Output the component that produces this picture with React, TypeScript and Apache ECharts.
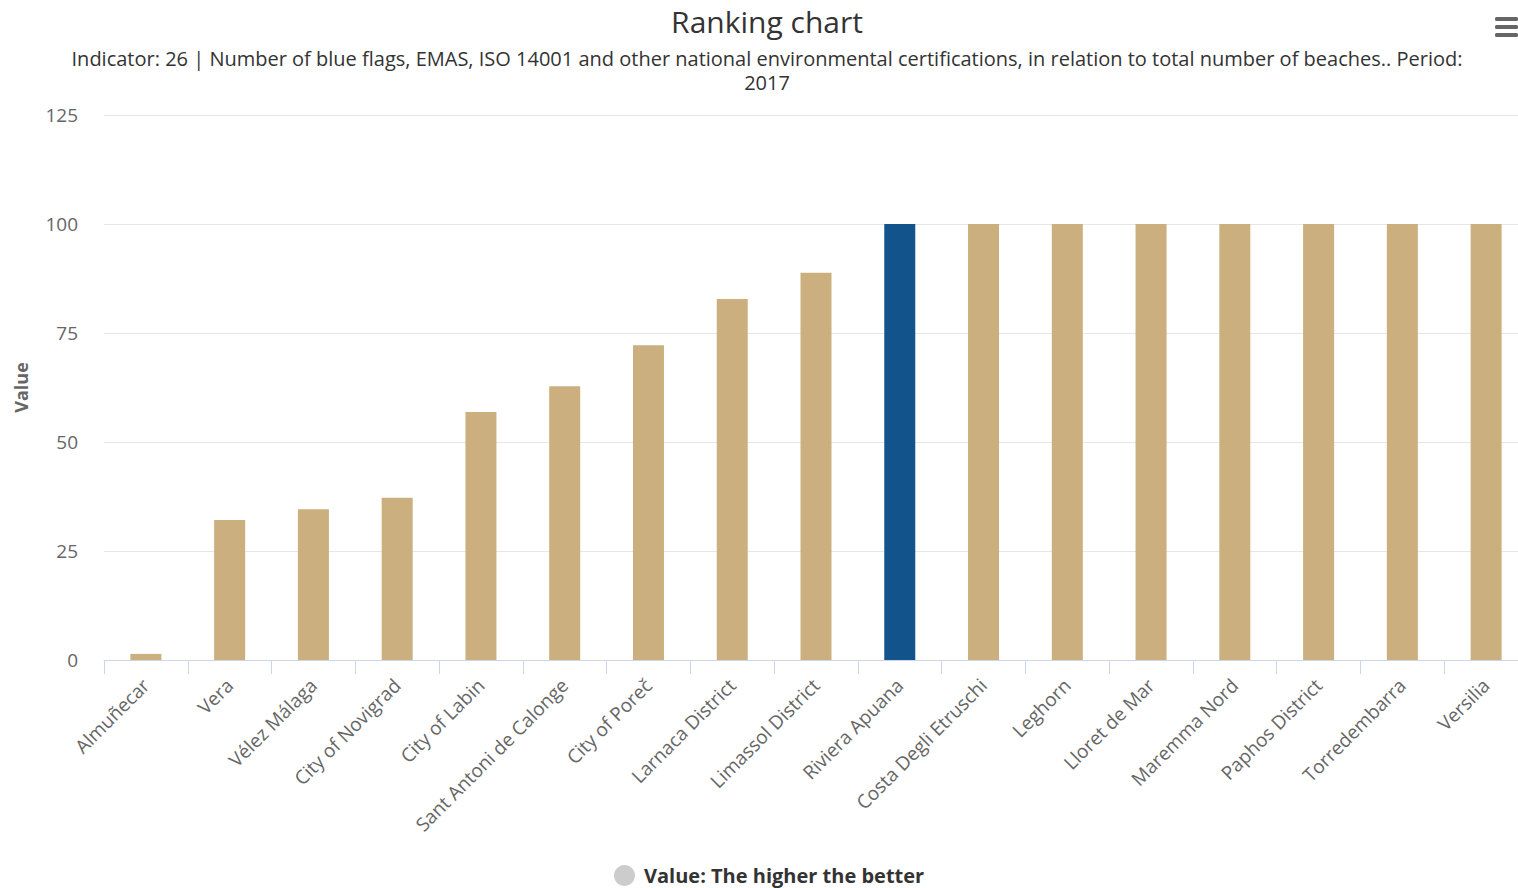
import React, { useEffect, useRef } from "react";
import * as echarts from "echarts";

const categories = [
  "Almuñecar",
  "Vera",
  "Vélez Málaga",
  "City of Novigrad",
  "City of Labin",
  "Sant Antoni de Calonge",
  "City of Poreč",
  "Larnaca District",
  "Limassol District",
  "Riviera Apuana",
  "Costa Degli Etruschi",
  "Leghorn",
  "Lloret de Mar",
  "Maremma Nord",
  "Paphos District",
  "Torredembarra",
  "Versilia",
];
const values = [1.4, 32.1, 34.6, 37.2, 56.9, 62.8, 72.2, 82.8, 88.8, 100, 100, 100, 100, 100, 100, 100, 100];
const highlighted = "Riviera Apuana";
const yTicks = [0, 25, 50, 75, 100, 125];

const TAN = "#cbaf7f";
const BLUE = "#11538a";
const FONT = "'Open Sans', 'DejaVu Sans', sans-serif";

export default function App() {
  const ref = useRef<HTMLDivElement>(null);
  useEffect(() => {
    if (!ref.current) return;
    const chart = echarts.init(ref.current, null, { renderer: "svg" });
    chart.setOption({
      animation: false,
      textStyle: { fontFamily: FONT },
      title: {
        text: "Ranking chart",
        subtext:
          "Indicator: 26 | Number of blue flags, EMAS, ISO 14001 and other national environmental certifications, in relation to total number of beaches.. Period:\n2017",
        left: 762,
        textAlign: "center",
        top: 1,
        itemGap: 10,
        textStyle: { fontSize: 30, fontWeight: "normal", color: "#333333", fontFamily: FONT },
        subtextStyle: { fontSize: 20, color: "#333333", lineHeight: 24, fontFamily: FONT, align: "center" },
      },
      legend: {
        bottom: -3,
        left: 609,
        icon: "circle",
        itemWidth: 21,
        itemHeight: 21,
        itemGap: 10,
        textStyle: { fontSize: 20, fontWeight: "bold", color: "#333333", fontFamily: FONT, padding: [0, 0, 0, 4] },
        data: [{ name: "Value: The higher the better", itemStyle: { color: "#cccccc" } }],
      },
      grid: {
        left: 104,
        width: 1424,
        top: 115,
        bottom: 228,
        containLabel: false,
        outerBoundsMode: "none",
      },
      xAxis: {
        type: "category",
        data: categories,
        axisLine: { lineStyle: { color: "#ccd6eb", width: 1 } },
        axisTick: { show: true, length: 14, lineStyle: { color: "#ccd6eb" } },
        axisLabel: {
          rotate: 45,
          interval: 0,
          fontSize: 19,
          color: "#666666",
          margin: 22,
          fontFamily: FONT,
        },
      },
      yAxis: {
        type: "value",
        min: yTicks[0],
        max: yTicks[yTicks.length - 1],
        interval: 25,
        name: "Value",
        nameLocation: "middle",
        nameGap: 74,
        nameTextStyle: { fontSize: 18, color: "#666666", fontWeight: "bold", fontFamily: FONT },
        axisLine: { show: false },
        axisTick: { show: false },
        splitLine: { lineStyle: { color: "#e6e6e6" } },
        axisLabel: { fontSize: 19, color: "#666666", margin: 26, fontFamily: FONT },
      },
      series: [
        {
          name: "Value: The higher the better",
          type: "bar",
          barWidth: 31,
          data: categories.map((c, i) => ({
            value: values[i],
            itemStyle: { color: c === highlighted ? BLUE : TAN },
          })),
          itemStyle: { color: TAN },
        },
      ],
      graphic: [
        {
          type: "group",
          right: 0,
          top: 17,
          children: [
            { type: "rect", shape: { x: 0, y: 0, width: 23, height: 4, r: 1.5 }, style: { fill: "#666666" } },
            { type: "rect", shape: { x: 0, y: 8, width: 23, height: 4, r: 1.5 }, style: { fill: "#666666" } },
            { type: "rect", shape: { x: 0, y: 16, width: 23, height: 4, r: 1.5 }, style: { fill: "#666666" } },
          ],
        },
      ],
    });
    return () => chart.dispose();
  }, []);
  return <div ref={ref} style={{ width: 1518, height: 888, position: "absolute", left: 0, top: 0 }} />;
}
